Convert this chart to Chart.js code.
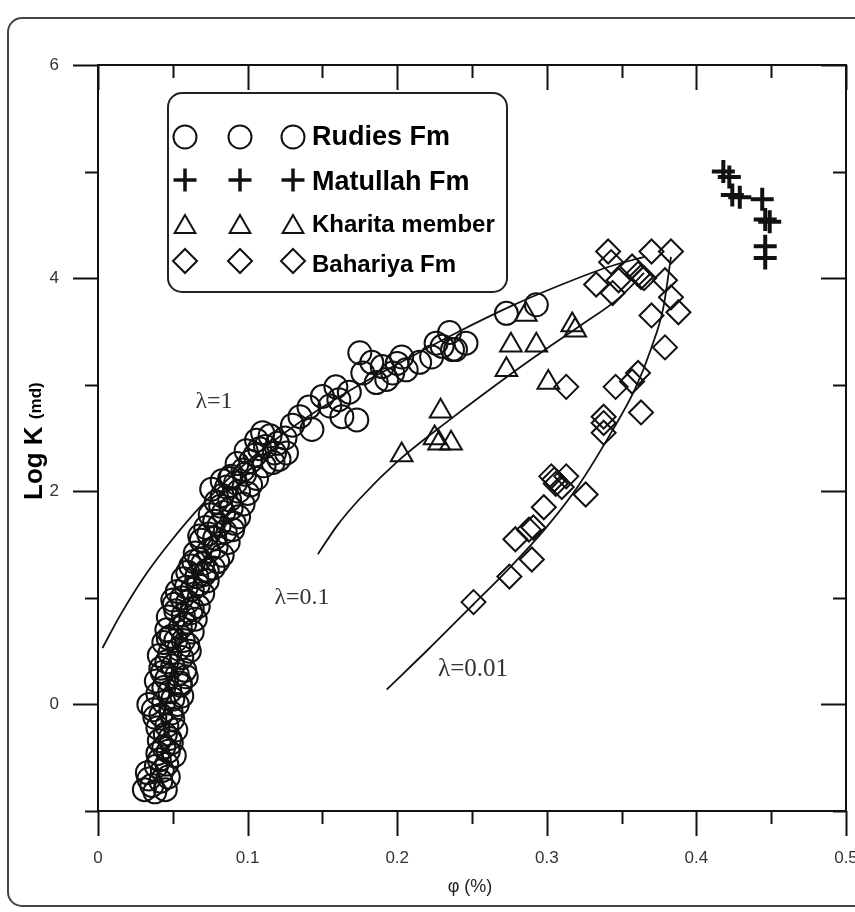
<!DOCTYPE html>
<html>
<head>
<meta charset="utf-8">
<script src="https://cdn.jsdelivr.net/npm/chart.js@4/dist/chart.umd.min.js"></script>
<style>
  html, body { margin: 0; padding: 0; background: #fff; }
  canvas { display: block; }
</style>
</head>
<body>
<canvas id="kphiChart" width="855" height="912"></canvas>
<script>
// axis ticks
const phiTicks = [0, 0.1, 0.2, 0.3, 0.4, 0.5];
const phiTickText = ['0', '0.1', '0.2', '0.3', '0.4', '0.5'];
const phiMinorTicks = [0.05, 0.15, 0.25, 0.35, 0.45];
const logKTicks = [0, 2, 4, 6];
const logKTickText = ['0', '2', '4', '6'];
const logKMinorTicks = [-1, 1, 3, 5];

// Rudies Fm (circles)
const rudiesPhi = [
  0.031, 0.038, 0.045, 0.034, 0.042, 0.047, 0.039, 0.046, 0.040, 0.047, 0.051,
  0.041, 0.048, 0.040, 0.046, 0.052, 0.042, 0.049, 0.034, 0.044, 0.053,
  0.040, 0.048, 0.056, 0.039, 0.046, 0.055, 0.059, 0.042, 0.050, 0.058,
  0.041, 0.048, 0.056, 0.061, 0.044, 0.052, 0.060, 0.046, 0.055, 0.063,
  0.047, 0.057, 0.065, 0.051, 0.060, 0.067, 0.053, 0.063, 0.070,
  0.057, 0.066, 0.073, 0.062, 0.070, 0.077, 0.065, 0.074, 0.083,
  0.069, 0.078, 0.087, 0.072, 0.081, 0.090, 0.075, 0.084, 0.094,
  0.079, 0.088, 0.097, 0.076, 0.086, 0.094, 0.102, 0.089, 0.098, 0.106,
  0.093, 0.102, 0.111, 0.121, 0.099, 0.108, 0.126, 0.106, 0.115, 0.117,
  0.120, 0.130, 0.135, 0.141, 0.143, 0.150, 0.155, 0.159, 0.163, 0.161,
  0.168, 0.173, 0.175, 0.177, 0.183, 0.186, 0.190, 0.193, 0.197, 0.200,
  0.203, 0.206, 0.215, 0.223, 0.226, 0.230, 0.235, 0.237, 0.239, 0.246,
  0.273, 0.293,
  0.036, 0.043, 0.044, 0.045, 0.037, 0.050, 0.044, 0.053, 0.046, 0.054,
  0.049, 0.058, 0.052, 0.063, 0.056, 0.067, 0.060, 0.073, 0.068, 0.079,
  0.074, 0.085, 0.078, 0.089, 0.083, 0.092, 0.083, 0.097, 0.105, 0.112,
  0.118, 0.125, 0.110,
  0.033, 0.041, 0.049, 0.038, 0.050, 0.043, 0.055, 0.047, 0.057, 0.050,
  0.062, 0.059, 0.064, 0.071, 0.068, 0.080, 0.082, 0.091, 0.088, 0.100
];
const rudiesLogK = [
  -0.80, -0.82, -0.80, -0.70, -0.72, -0.68, -0.58, -0.56, -0.46, -0.44, -0.48,
  -0.34, -0.32, -0.22, -0.20, -0.24, -0.10, -0.08, 0.00, 0.02, 0.00,
  0.10, 0.12, 0.08, 0.22, 0.24, 0.20, 0.26, 0.34, 0.36, 0.32,
  0.46, 0.48, 0.44, 0.50, 0.58, 0.60, 0.56, 0.70, 0.72, 0.68,
  0.82, 0.84, 0.80, 0.94, 0.96, 0.92, 1.06, 1.08, 1.04,
  1.18, 1.20, 1.16, 1.30, 1.32, 1.28, 1.42, 1.44, 1.40,
  1.54, 1.56, 1.52, 1.66, 1.68, 1.64, 1.78, 1.80, 1.76,
  1.90, 1.92, 1.88, 2.02, 2.04, 2.00, 2.06, 2.14, 2.16, 2.12,
  2.26, 2.28, 2.24, 2.30, 2.38, 2.40, 2.36, 2.48, 2.52, 2.27,
  2.45, 2.62, 2.70, 2.79, 2.58, 2.89, 2.80, 2.98, 2.70, 2.86,
  2.93, 2.67, 3.30, 3.11, 3.21, 3.02, 3.17, 3.05, 3.11, 3.20,
  3.26, 3.14, 3.21, 3.26, 3.39, 3.36, 3.49, 3.33, 3.33, 3.39,
  3.67, 3.75,
  -0.76, -0.62, -0.40, -0.28, -0.05, 0.05, 0.16, 0.28, 0.40, 0.52,
  0.64, 0.76, 0.88, 0.90, 1.00, 1.12, 1.24, 1.26, 1.36, 1.48,
  1.60, 1.62, 1.72, 1.84, 1.96, 2.08, 2.10, 2.20, 2.34, 2.42,
  2.36, 2.50, 2.55,
  -0.64, -0.52, -0.36, -0.12, -0.14, 0.30, 0.18, 0.62, 0.60, 0.98,
  0.86, 1.10, 1.34, 1.22, 1.58, 1.34, 1.86, 1.70, 2.12, 1.98
];

// Matullah Fm (crosses)
const matullahPhi = [0.418, 0.422, 0.424, 0.429, 0.444, 0.446, 0.449, 0.446, 0.446];
const matullahLogK = [5.00, 4.95, 4.78, 4.76, 4.74, 4.55, 4.53, 4.30, 4.19];

// Kharita member (triangles)
const kharitaPhi = [0.203, 0.225, 0.228, 0.236, 0.229, 0.273, 0.276, 0.293, 0.286, 0.301, 0.317, 0.319];
const kharitaLogK = [2.34, 2.50, 2.45, 2.45, 2.75, 3.14, 3.37, 3.37, 3.66, 3.02, 3.56, 3.51];

// Bahariya Fm (diamonds)
const bahariyaPhi = [
  0.251, 0.275, 0.290, 0.279, 0.288, 0.291, 0.298, 0.303, 0.305, 0.306,
  0.313, 0.310, 0.326, 0.338, 0.338, 0.338, 0.363, 0.346, 0.357, 0.313,
  0.341, 0.343, 0.370, 0.383, 0.333, 0.344, 0.348, 0.363, 0.361, 0.365,
  0.357, 0.379, 0.383, 0.388, 0.370, 0.379, 0.361
];
const bahariyaLogK = [
  0.96, 1.20, 1.36, 1.55, 1.64, 1.66, 1.85, 2.14, 2.11, 2.07,
  2.14, 2.04, 1.97, 2.70, 2.64, 2.55, 2.74, 2.98, 3.03, 2.98,
  4.25, 4.15, 4.25, 4.25, 3.94, 3.86, 3.98, 4.01, 4.04, 4.00,
  4.11, 3.98, 3.82, 3.68, 3.65, 3.35, 3.11
];

// model curves
const lambda1Phi = [0.003, 0.015, 0.030, 0.048, 0.070, 0.100, 0.135, 0.170, 0.205, 0.240, 0.275, 0.310, 0.340, 0.365];
const lambda1LogK = [0.53, 0.84, 1.18, 1.52, 1.88, 2.28, 2.65, 2.96, 3.23, 3.49, 3.73, 3.94, 4.10, 4.20];
const lambda01Phi = [0.147, 0.160, 0.175, 0.201, 0.235, 0.273, 0.299, 0.323, 0.348, 0.365];
const lambda01LogK = [1.41, 1.68, 1.93, 2.29, 2.67, 3.07, 3.33, 3.56, 3.81, 4.05];
const lambda001Phi = [0.193, 0.221, 0.251, 0.275, 0.299, 0.321, 0.343, 0.359, 0.370, 0.378, 0.383];
const lambda001LogK = [0.14, 0.52, 0.94, 1.28, 1.65, 2.05, 2.55, 2.96, 3.35, 3.73, 4.20];

const legendNames = ['Rudies Fm', 'Matullah Fm', 'Kharita member', 'Bahariya Fm'];
const curveNames = ['\u03bb=1', '\u03bb=0.1', '\u03bb=0.01'];

function toPoints(xs, ys) {
  return xs.map((x, i) => ({ x: x, y: ys[i] }));
}

const INK = '#111';

function markerSet(label, xs, ys, style, radius, width) {
  return {
    label: label,
    data: toPoints(xs, ys),
    pointStyle: style,
    pointRadius: radius,
    pointBorderWidth: width,
    pointBorderColor: INK,
    pointBackgroundColor: 'rgba(0,0,0,0)',
    showLine: false
  };
}

function curveSet(label, xs, ys) {
  return {
    label: label,
    data: toPoints(xs, ys),
    showLine: true,
    pointRadius: 0,
    borderColor: INK,
    borderWidth: 1.8,
    cubicInterpolationMode: 'monotone',
    fill: false
  };
}

// small marker drawer for the legend (same geometry as Chart.js)
function drawMarker(ctx, style, x, y, r, lw) {
  ctx.save();
  ctx.strokeStyle = INK;
  ctx.lineWidth = lw;
  ctx.beginPath();
  if (style === 'circle') {
    ctx.arc(x, y, r, 0, Math.PI * 2);
  } else if (style === 'cross') {
    ctx.moveTo(x - r, y); ctx.lineTo(x + r, y);
    ctx.moveTo(x, y - r); ctx.lineTo(x, y + r);
  } else if (style === 'triangle') {
    ctx.moveTo(x, y - r);
    ctx.lineTo(x + r * Math.sin(2 * Math.PI / 3), y + r / 2);
    ctx.lineTo(x - r * Math.sin(2 * Math.PI / 3), y + r / 2);
    ctx.closePath();
  } else if (style === 'rectRot') {
    ctx.moveTo(x, y - r); ctx.lineTo(x + r, y);
    ctx.lineTo(x, y + r); ctx.lineTo(x - r, y);
    ctx.closePath();
  }
  ctx.stroke();
  ctx.restore();
}

const decorPlugin = {
  id: 'decor',
  beforeDraw(chart) {
    const ctx = chart.ctx;
    // outer frame
    ctx.save();
    ctx.strokeStyle = '#444';
    ctx.lineWidth = 2;
    ctx.beginPath();
    ctx.roundRect(8, 18, 870, 888, 14);
    ctx.stroke();
    ctx.restore();
  },
  afterDraw(chart) {
    const ctx = chart.ctx;
    const xs = chart.scales.x;
    const ys = chart.scales.y;
    const a = chart.chartArea;
    ctx.save();
    ctx.strokeStyle = INK;
    ctx.lineWidth = 2;
    ctx.lineCap = 'butt';
    ctx.beginPath();
    ctx.rect(a.left, a.top, a.right - a.left, a.bottom - a.top);
    ctx.stroke();

    ctx.beginPath();
    const tick = (vals, len) => vals.forEach(v => {
      const px = Math.round(xs.getPixelForValue(v)) + 0.5;
      ctx.moveTo(px, a.bottom); ctx.lineTo(px, a.bottom + len);
      ctx.moveTo(px, a.top); ctx.lineTo(px, a.top + len);
    });
    tick(phiTicks, 25);
    tick(phiMinorTicks, 13);
    const ytick = (vals, len) => vals.forEach(v => {
      const py = Math.round(ys.getPixelForValue(v)) + 0.5;
      ctx.moveTo(a.left, py); ctx.lineTo(a.left - len, py);
      ctx.moveTo(a.right, py); ctx.lineTo(a.right - len, py);
    });
    ytick(logKTicks, 25);
    ytick(logKMinorTicks, 13);
    ctx.stroke();
    ctx.restore();

    // lambda labels
    ctx.save();
    ctx.fillStyle = '#333';
    ctx.textAlign = 'center';
    ctx.textBaseline = 'middle';
    ctx.font = '24px "Liberation Serif", "DejaVu Serif", serif';
    ctx.fillText(curveNames[0], 214, 402);
    ctx.fillText(curveNames[1], 302, 598);
    ctx.font = '25px "Liberation Serif", "DejaVu Serif", serif';
    ctx.fillText(curveNames[2], 473, 669);
    ctx.restore();

    // axis titles
    ctx.save();
    ctx.fillStyle = '#222';
    ctx.font = '18px "Liberation Sans", Arial, sans-serif';
    ctx.textAlign = 'center';
    ctx.textBaseline = 'middle';
    ctx.fillText('\u03c6 (%)', 470, 887);
    ctx.restore();

    ctx.save();
    ctx.fillStyle = '#000';
    ctx.translate(42, 500);
    ctx.rotate(-Math.PI / 2);
    ctx.textAlign = 'left';
    ctx.textBaseline = 'alphabetic';
    ctx.font = 'bold 26px "Liberation Sans", Arial, sans-serif';
    ctx.fillText('Log K', 0, 0);
    const w = ctx.measureText('Log K ').width;
    ctx.font = 'bold 17px "Liberation Sans", Arial, sans-serif';
    ctx.fillText('(md)', w, -1);
    ctx.restore();

    // legend box
    ctx.save();
    ctx.strokeStyle = '#222';
    ctx.lineWidth = 2;
    ctx.fillStyle = '#fff';
    ctx.beginPath();
    ctx.roundRect(168, 93, 339, 199, 14);
    ctx.fill();
    ctx.stroke();
    const styles = ['circle', 'cross', 'triangle', 'rectRot'];
    const radii = [11.5, 11.5, 12, 12];
    const widths = [2, 3.5, 2, 2];
    const rowY = [137, 180, 227, 261];
    const baseY = [145, 190, 232, 272];
    const sizes = [27, 27, 24, 24];
    const cols = [185, 240, 293];
    for (let i = 0; i < 4; i++) {
      cols.forEach(cx => drawMarker(ctx, styles[i], cx, rowY[i], radii[i], widths[i]));
      ctx.fillStyle = '#000';
      ctx.textAlign = 'left';
      ctx.textBaseline = 'alphabetic';
      ctx.font = 'bold ' + sizes[i] + 'px "Liberation Sans", Arial, sans-serif';
      ctx.fillText(legendNames[i], 312, baseY[i]);
    }
    ctx.restore();
  }
};

new Chart(document.getElementById('kphiChart'), {
  type: 'scatter',
  data: {
    datasets: [
      curveSet(curveNames[0], lambda1Phi, lambda1LogK),
      curveSet(curveNames[1], lambda01Phi, lambda01LogK),
      curveSet(curveNames[2], lambda001Phi, lambda001LogK),
      markerSet(legendNames[0], rudiesPhi, rudiesLogK, 'circle', 11.5, 2),
      markerSet(legendNames[1], matullahPhi, matullahLogK, 'cross', 11.5, 4),
      markerSet(legendNames[2], kharitaPhi, kharitaLogK, 'triangle', 12.5, 2),
      markerSet(legendNames[3], bahariyaPhi, bahariyaLogK, 'rectRot', 12, 2)
    ]
  },
  options: {
    responsive: false,
    devicePixelRatio: 1,
    animation: false,
    events: [],
    layout: { autoPadding: false, padding: { left: 0, right: 9, top: 65, bottom: 0 } },
    plugins: {
      legend: { display: false },
      tooltip: { enabled: false }
    },
    scales: {
      x: {
        type: 'linear',
        position: 'bottom',
        min: 0,
        max: 0.5,
        afterFit: s => { s.height = 101; s.paddingLeft = 0; s.paddingRight = 0; },
        afterBuildTicks: s => { s.ticks = phiTicks.map(v => ({ value: v })); },
        grid: { display: false, drawTicks: true, tickLength: 25 },
        border: { display: false },
        ticks: {
          padding: 12,
          maxRotation: 0,
          autoSkip: false,
          color: '#333',
          font: { family: '"Liberation Sans", Arial, sans-serif', size: 17 },
          callback: (v, i) => phiTickText[i]
        }
      },
      y: {
        type: 'linear',
        min: -1,
        max: 6,
        afterFit: s => { s.width = 98; s.paddingTop = 0; s.paddingBottom = 0; },
        afterBuildTicks: s => { s.ticks = logKTicks.map(v => ({ value: v })); },
        grid: { display: false, drawTicks: true, tickLength: 25 },
        border: { display: false },
        ticks: {
          padding: 14,
          autoSkip: false,
          color: '#333',
          font: { family: '"Liberation Sans", Arial, sans-serif', size: 17 },
          callback: (v, i) => logKTickText[i]
        }
      }
    }
  },
  plugins: [decorPlugin]
});
</script>
</body>
</html>
